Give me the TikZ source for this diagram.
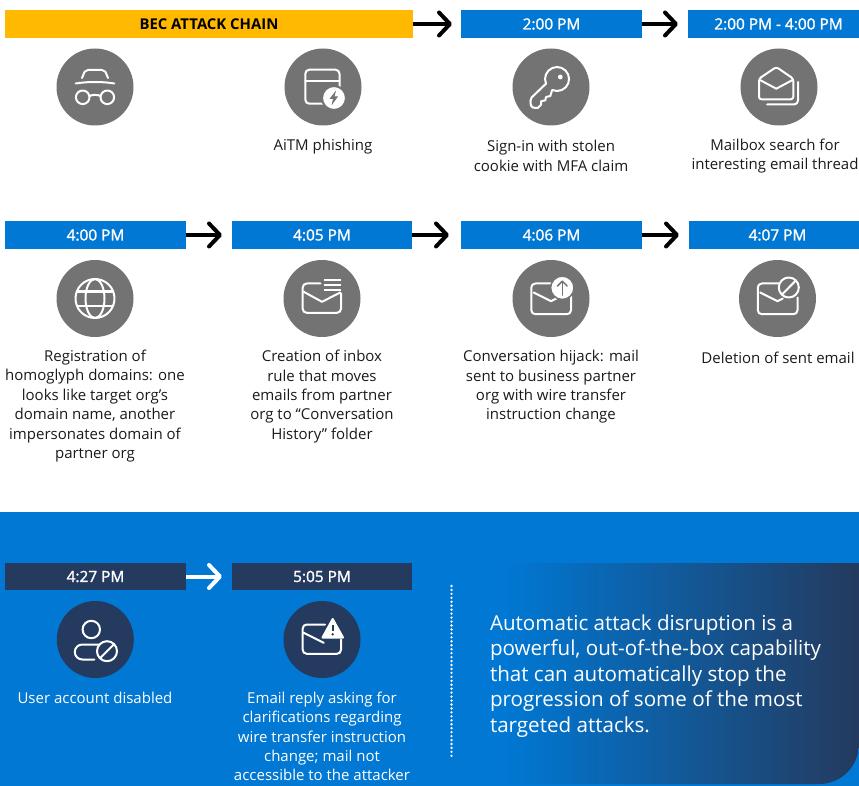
\documentclass[tikz,border=0pt]{standalone}
\usepackage{fontspec}
\setmainfont{Open Sans}
\usepackage{tikz}
\usetikzlibrary{arrows.meta}
\definecolor{msBlue}{RGB}{0,120,212}
\definecolor{msNavy}{RGB}{36,58,94}
\definecolor{msGold}{RGB}{255,185,0}
\definecolor{msGray}{RGB}{115,115,115}
\definecolor{msInk}{RGB}{26,26,26}
\newcommand{\bodyfont}{\fontsize{15}{19.4}\selectfont}
\newcommand{\barfont}{\fontsize{15.4}{17}\selectfont\addfontfeature{FakeBold=1.6}}
\newcommand{\headfont}{\fontsize{14.9}{17}\selectfont\bfseries}
\newcommand{\panelfont}{\fontsize{20.6}{25.4}\selectfont}

\begin{document}
\begin{tikzpicture}[x=1pt, y=-1pt]%
  \tikzstyle{every node}=[draw=none, outer sep=0pt, inner sep=0pt, font=\bodyfont, text=msInk, align=center]
  \tikzset{normal arrow/.style={draw,-{Straight Barb[length=11pt,width=23pt,round]},line width=4pt,shorten >=10pt,black}}
  \tikzset{time bar/.style={fill=msBlue, text=white, minimum height=28pt, font=\barfont}}
  \tikzset{late bar/.style={fill=msNavy, text=white, minimum height=27pt, font=\barfont}}
  \tikzset{gray disc/.style={fill=msGray, circle, minimum size=77pt}}
  \tikzset{navy disc/.style={fill=msNavy, circle, minimum size=77pt}}
  \tikzset{icon line/.style={draw=white, line width=2pt, line cap=round, line join=round}}
  \tikzset{note/.style={text=white}}
  % icons, drawn around the centre of a disc
  \tikzset{spy icon/.pic={
    \draw[icon line] (-13,-9) -- (-10.5,-15) [rounded corners=2pt] -- (-9,-17) -- (9,-17) [sharp corners] -- (10.5,-15) -- (13,-9);
    \draw[icon line] (-19.3,-3.5) .. controls (-8,-5.5) and (8,-5.5) .. (19.3,-3.5);
    \draw[icon line] (-12.3,10.3) circle (6.8);
    \draw[icon line] (12.3,10.3) circle (6.8);
    \draw[icon line] (-5.5,9) .. controls (-2,7.5) and (2,7.5) .. (5.5,9);
  }}
  \tikzset{window icon/.pic={
    \draw[icon line, rounded corners=4pt] (-17.7,-17.3) rectangle (16.5,16.7);
    \draw[icon line] (-17.7,-5.7) -- (16.5,-5.7);
    \fill[white, draw=msGray, line width=2pt] (11,11) circle (12);
    \fill[msGray] (13,3.5) -- (6.5,12) -- (10,12) -- (8.5,18.5) -- (15,9.5) -- (11.5,9.5) -- cycle;
  }}
  \tikzset{key icon/.pic={
    \draw[icon line] (-5,-3.3) arc[start angle=157, end angle=474, radius=12] -- (-0.7,9) -- (-5,10) -- (-5.7,13.3) -- (-10,14.3) -- (-10,17.7) -- (-13.3,21) [rounded corners=2pt] -- (-20,20.5) -- (-20.7,11.7) [sharp corners] -- cycle;
    \fill[white] (9.3,-10) circle (2.4);
  }}
  \tikzset{open mail icon/.pic={
    \draw[icon line, rounded corners=2.5pt] (-20,-8.3) -- (-2.7,-20) -- (14.3,-8.3) -- (14.3,12.3) -- (-20,12.3) -- cycle;
    \draw[icon line] (-18.5,-6.7) -- (-2.7,1.7) -- (13,-6.7);
    \draw[icon line, rounded corners=4pt] (19,-5) -- (19,17.5) -- (-12,17.5);
  }}
  \tikzset{mail list icon/.pic={
    \draw[icon line, rounded corners=4pt] (-1.7,-15) -- (-19.3,-15) -- (-19.3,14.3) -- (19,14.3) -- (19,-5);
    \draw[icon line] (-18.3,-6.7) -- (0,3.3) -- (18.3,-6);
    \draw[icon line, line width=2.4pt, line cap=butt] (1.7,-18.3) -- (19,-18.3);
    \draw[icon line, line width=2.4pt, line cap=butt] (1.7,-13.3) -- (19,-13.3);
    \draw[icon line, line width=2.4pt, line cap=butt] (1.7,-8.3) -- (19,-8.3);
  }}
  \tikzset{mail up icon/.pic={
    \draw[icon line, rounded corners=4pt] (2,-15) -- (-19.7,-15) -- (-19.7,15.7) -- (20,15.7) -- (20,-2);
    \draw[icon line] (-17.3,-6) -- (0,2.7) -- (5.3,0);
    \fill[white, draw=msGray, line width=1.5pt] (11.3,-10.7) circle (11.7);
    \draw[msGray, line width=1.5pt, line cap=round, line join=round] (11.3,-3.5) -- (11.3,-17);
    \draw[msGray, line width=1.5pt, line cap=round, line join=round] (6.5,-12.5) -- (11.3,-17.3) -- (16.1,-12.5);
  }}
  \tikzset{mail ban icon/.pic={
    \draw[icon line, rounded corners=4pt] (2,-15) -- (-19.7,-15) -- (-19.7,15.7) -- (20,15.7) -- (20,-1);
    \draw[icon line] (-17.3,-6) -- (0,2.7) -- (5.3,0);
    \draw[icon line, fill=msGray] (11.3,-11) circle (10);
    \draw[icon line] (4.5,-4) -- (18.3,-18);
  }}
  \tikzset{globe icon/.pic={
    \draw[icon line] (0,0) circle (19.5);
    \draw[icon line] (0,0) ellipse [x radius=9.5, y radius=19.5];
    \draw[icon line] (-18,-7) -- (18,-7);
    \draw[icon line] (-18,7) -- (18,7);
  }}
  \tikzset{user ban icon/.pic={
    \draw[icon line] (-4,-10) circle (8.7);
    \draw[icon line] (3,5) -- (-13,5) arc[start angle=270, end angle=90, radius=7.5] -- (-1,20);
    \draw[icon line] (11.7,11.7) circle (10);
    \draw[icon line] (4.7,18.7) -- (18.7,4.7);
  }}
  \tikzset{mail warn icon/.pic={
    \draw[icon line, rounded corners=4pt] (3,-15) -- (-19.3,-15) -- (-19.3,14.3) -- (19,14.3) -- (19,0);
    \draw[icon line] (-18.3,-6.7) -- (1.7,3.3);
    \fill[white, draw=white, line width=2pt, line join=round] (10.7,-20.5) -- (0.5,-2) -- (21,-2) -- cycle;
    \draw[msNavy, line width=2pt] (10.7,-15) -- (10.7,-8.5);
    \fill[msNavy] (10.7,-5.2) circle (1.3);
  }}

  \useasboundingbox (0,0) rectangle (859,786);

  % blue band at the bottom
  \fill[msBlue] (0,512) rectangle (859,786);
  \path[left color=msBlue, right color=msNavy] (505,563) -- (859,563) [rounded corners=40pt] -- (859,784) [sharp corners] -- (505,784) -- cycle;

  % first row, the last bar runs off the page
  \node[time bar, fill=msGold, text=black, font=\headfont, minimum width=408pt] at (209,24) (chain) {BEC ATTACK CHAIN};
  \node[time bar, minimum width=181pt] at (551.5,24) (t200) {2:00 PM};
  \node[time bar, minimum width=181pt] at (778.5,24) (t400) {2:00 PM - 4:00 PM};
  \node[gray disc] at (95,87) (spy) {};
  \node[gray disc] at (323,87) (aitm) {};
  \node[gray disc] at (551,87) (signin) {};
  \node[gray disc] at (779,87) (search) {};
  \node at (323,146.5) (aitmtext) {AiTM phishing};
  \node at (551,156) (signintext) {Sign-in with stolen\\cookie with MFA claim};
  \node at (775,156) (searchtext) {Mailbox search for\\interesting email thread};

  % second row
  \node[time bar, minimum width=181pt] at (95.5,235) (t406) {4:00 PM};
  \node[time bar, minimum width=180pt] at (322,235) (t405) {4:05 PM};
  \node[time bar, minimum width=181pt] at (551.5,235) (t4006) {4:06 PM};
  \node[time bar, minimum width=177pt] at (777.5,235) (t407) {4:07 PM};
  \node[gray disc] at (95,298.5) (globe) {};
  \node[gray disc] at (322,298.5) (rule) {};
  \node[gray disc] at (551,298.5) (hijack) {};
  \node[gray disc] at (777.5,298.5) (delete) {};
  \node at (95,406) (globetext) {Registration of\\homoglyph domains: one\\looks like target org’s\\domain name, another\\impersonates domain of\\partner org};
  \node at (322,396.5) (ruletext) {Creation of inbox\\rule that moves\\emails from partner\\org to “Conversation\\History” folder};
  \node at (551,387) (hijacktext) {Conversation hijack: mail\\sent to business partner\\org with wire transfer\\instruction change};
  \node at (778,357.5) (deletetext) {Deletion of sent email};

  % third row
  \node[late bar, minimum width=181pt] at (95.5,576.5) (t427) {4:27 PM};
  \node[late bar, minimum width=180pt] at (322,576.5) (t505) {5:05 PM};
  \node[navy disc] at (95.3,639.5) (user) {};
  \node[navy disc] at (322,639.5) (reply) {};
  \node[note] at (95,697.5) (usertext) {User account disabled};
  \node[note] at (322,736.5) (replytext) {Email reply asking for\\clarifications regarding\\wire transfer instruction\\change; mail not\\accessible to the attacker};
  \node[note, anchor=west, align=left, font=\panelfont] at (490,676) (paneltext) {Automatic attack disruption is a\\powerful, out-of-the-box capability\\that can automatically stop the\\progression of some of the most\\targeted attacks.};
  \coordinate (dots1) at (451.5,586);
  \coordinate (dots2) at (451.5,756);

  \pic at (spy.center) {spy icon};
  \pic at (aitm.center) {window icon};
  \pic at (signin.center) {key icon};
  \pic at (search.center) {open mail icon};
  \pic at (globe.center) {globe icon};
  \pic at (rule.center) {mail list icon};
  \pic at (hijack.center) {mail up icon};
  \pic at (delete.center) {mail ban icon};
  \pic at (user.center) {user ban icon};
  \pic at (reply.center) {mail warn icon};

  \path[normal arrow, shorten >=9pt] (chain) edge (t200);
  \path[normal arrow] (t200) edge (t400);
  \path[normal arrow] (t406) edge (t405);
  \path[normal arrow, shorten >=12pt] (t405) edge (t4006);
  \path[normal arrow] (t4006) edge (t407);
  \path[normal arrow, white] (t427) edge (t505);
  \path[draw=white, line width=2.6pt, line cap=round, dash pattern=on 0pt off 3.95pt] (dots1) -- (dots2);
\end{tikzpicture}
\end{document}
